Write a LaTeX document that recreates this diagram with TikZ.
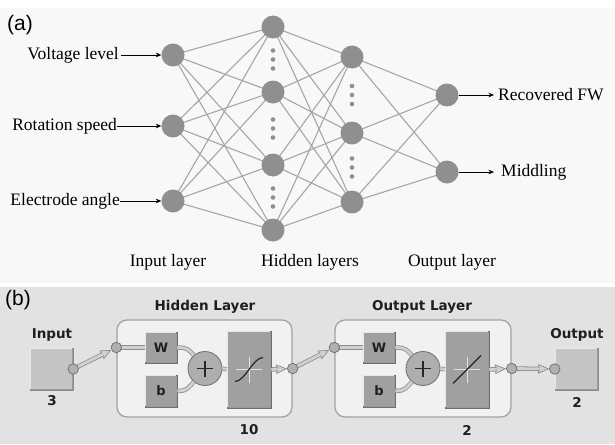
\documentclass[tikz,border=0pt]{standalone}
\usepackage{fontspec}
\setmainfont{Liberation Serif}
\newfontfamily\labfont{Liberation Sans}
\newfontfamily\vfont{DejaVu Sans}
\usetikzlibrary{arrows.meta,calc}
\definecolor{abg}{HTML}{F8F8F8}
\definecolor{bbg}{HTML}{E2E2E2}
\definecolor{ncol}{HTML}{8F8F8F}
\definecolor{lcol}{HTML}{A6A6A6}
\definecolor{cedge}{HTML}{8E8E8E}
\definecolor{cfill}{HTML}{D0D0D0}
\definecolor{lyfill}{HTML}{F1F1F1}
\definecolor{lyedge}{HTML}{A2A2A2}
\definecolor{boxfill}{HTML}{A0A0A0}
\definecolor{boxedge}{HTML}{6E6E6E}
\definecolor{ioboxfill}{HTML}{C4C4C4}
\definecolor{portfill}{HTML}{B0B0B0}
\definecolor{txtdark}{HTML}{1E1E1E}
\tikzset{
  neuron/.style={circle, fill=ncol, minimum size=23pt, inner sep=0pt},
  ndot/.style={circle, fill=ncol, minimum size=4.6pt, inner sep=0pt},
  wire/.style={draw=lcol, line width=1.1pt},
  inarrow/.style={draw=black, line width=0.7pt, -{Stealth[length=5.5pt,width=4.5pt]}},
  serif/.style={font=\fontsize{17.5}{20}\selectfont, inner sep=0pt},
  panel/.style={font=\labfont\fontsize{21}{24}\selectfont, inner sep=0pt},
  vtitle/.style={font=\vfont\bfseries\fontsize{13.5}{16}\selectfont, text=txtdark, inner sep=0pt},
  layerbox/.style={draw=lyedge, fill=lyfill, line width=1.3pt, rounded corners=10pt, inner sep=0pt},
  wbox/.style={draw=boxedge, fill=boxfill, line width=0.6pt, inner sep=0pt,
               font=\vfont\bfseries\fontsize{13}{15}\selectfont, text=txtdark},
  iobox/.style={draw=boxedge!80, fill=ioboxfill, line width=0.6pt, inner sep=0pt},
  sumnode/.style={circle, draw=boxedge, fill=boxfill!85, line width=0.8pt, minimum size=34pt, inner sep=0pt},
  conn/.style={draw=cedge, double=cfill, double distance=2.8pt, line width=0.8pt},
  tipline/.style={draw=cedge, line width=0.7pt, -{Triangle[length=11pt,width=9.5pt,fill=cfill]}},
  port/.style={circle, draw=boxedge, fill=portfill, line width=0.7pt, minimum size=10.5pt, inner sep=0pt},
  hilite/.style={draw=white!75!boxfill, line width=1pt},
  cross/.style={draw=white!70!boxfill, line width=0.6pt},
  glyph/.style={draw=black!85, line width=1.2pt}
}
\begin{document}
\begin{tikzpicture}[x=1pt,y=-1pt]
\useasboundingbox (0,0) rectangle (615,444);
\fill[white] (0,0) rectangle (615,444);
\fill[abg] (0,8) rectangle (615,283);
\fill[bbg] (0,287) rectangle (615,444);

% ---------------- (a) ----------------
\node[panel, anchor=west] (pa) at (7,25) {(a)};

\coordinate (i1) at (173,55);
\coordinate (i2) at (173,126);
\coordinate (i3) at (173,201);
\coordinate (h1) at (273,27);
\coordinate (h2) at (273,92);
\coordinate (h3) at (273,165);
\coordinate (h4) at (273,230);
\coordinate (g1) at (352,57);
\coordinate (g2) at (352,133);
\coordinate (g3) at (352,202);
\coordinate (o1) at (447,95);
\coordinate (o2) at (447,172);

\foreach \a in {i1,i2,i3}{\foreach \b in {h1,h2,h3,h4}{\draw[wire] (\a) -- (\b);}}
\foreach \a in {h1,h2,h3,h4}{\foreach \b in {g1,g2,g3}{\draw[wire] (\a) -- (\b);}}
\foreach \a in {g1,g2,g3}{\foreach \b in {o1,o2}{\draw[wire] (\a) -- (\b);}}

\foreach \n in {i1,i2,i3,h1,h2,h3,h4,g1,g2,g3,o1,o2}{
  \node[neuron] (n\n) at (\n) {};}

% dots
\foreach \p/\q/\k in {h1/h2/a,h2/h3/b,h3/h4/c,g1/g2/d,g2/g3/e}{
  \foreach \d/\j in {-9/1,0/2,9/3}{
    \node[ndot] (dot\k\j) at ($(\p)!0.5!(\q)+(0,\d)$) {};}}

% input labels
\node[serif, anchor=east] (lv) at (119,55) {Voltage level};
\node[serif, anchor=east] (lr) at (117,126) {Rotation speed};
\node[serif, anchor=east] (le) at (120,201) {Electrode angle};
\draw[inarrow] ([xshift=2pt]lv.east) -- (ni1.west);
\draw[inarrow] (lr.east) -- (ni2.west);
\draw[inarrow] (le.east) -- (ni3.west);

% output labels
\node[serif, anchor=west] (lo1) at (498,95) {Recovered FW};
\node[serif, anchor=west] (lo2) at (501,172) {Middling};
\draw[inarrow] (no1.east) -- ([xshift=-4pt]lo1.west);
\draw[inarrow] (no2.east) -- ([xshift=-7pt]lo2.west);

\node[serif] (li) at (168,262) {Input layer};
\node[serif] (lh) at (310,262) {Hidden layers};
\node[serif] (lol) at (452,262) {Output layer};

% ---------------- (b) ----------------
\node[panel, anchor=west] (pb) at (5,300) {(b)};

% layer boxes
\node[layerbox, minimum width=175pt, minimum height=97pt] (hid) at (204.5,368.5) {};
\node[layerbox, minimum width=176pt, minimum height=97pt] (olay) at (423,368.5) {};
\node[vtitle] (thid) at (205,307) {Hidden Layer};
\node[vtitle] (tout) at (422,307) {Output Layer};
\node[vtitle] (n10) at (249,430) {10};
\node[vtitle] (n2a) at (467,430) {2};

% input / output boxes
\node[iobox, minimum width=43pt, minimum height=42pt] (inbox) at (51.5,369) {};
\node[iobox, minimum width=43pt, minimum height=42pt] (outbox) at (576.5,369) {};
\node[vtitle] (tin) at (52,335) {Input};
\node[vtitle] (tou) at (577,335) {Output};
\node[vtitle] (n3) at (52,401) {3};
\node[vtitle] (n2b) at (577,402) {2};

% inner boxes
\node[wbox, minimum width=32pt, minimum height=31pt] (w1) at (161,347.5) {W};
\node[wbox, minimum width=32pt, minimum height=32pt] (b1) at (161,391) {b};
\node[sumnode] (p1) at (205,368.5) {};
\node[wbox, minimum width=44pt, minimum height=77pt] (s1) at (249,369.5) {};
\node[wbox, minimum width=32pt, minimum height=31pt] (w2) at (379,347.5) {W};
\node[wbox, minimum width=32pt, minimum height=32pt] (b2) at (379,391) {b};
\node[sumnode] (p2) at (423,368.5) {};
\node[wbox, minimum width=44pt, minimum height=77pt] (l2) at (467,369.5) {};

% bevel highlights
\foreach \bx in {w1,b1,s1,w2,b2,l2,inbox,outbox}{
  \draw[hilite] ([xshift=1.2pt,yshift=1.2pt]\bx.south west) -- ([xshift=1.2pt,yshift=-1.2pt]\bx.north west)
     -- ([xshift=-1.2pt,yshift=-1.2pt]\bx.north east);
  \draw[draw=boxedge!70, line width=1.2pt] ([xshift=-1pt,yshift=-1pt]\bx.north east) -- ([xshift=-1pt,yshift=1pt]\bx.south east)
     -- ([xshift=1pt,yshift=1pt]\bx.south west);}

% plus signs
\foreach \pp in {p1,p2}{
  \draw[glyph, line width=1.3pt] ($(\pp)+(-8,0)$) -- ($(\pp)+(8,0)$);
  \draw[glyph, line width=1.3pt] ($(\pp)+(0,-8)$) -- ($(\pp)+(0,8)$);}

% transfer-function glyphs
\foreach \fb in {s1,l2}{
  \draw[cross] ($(\fb)+(-13,0)$) -- ($(\fb)+(13,0)$);
  \draw[cross] ($(\fb)+(0,-13)$) -- ($(\fb)+(0,13)$);}
\draw[glyph] ($(s1)+(-14,12)$) .. controls ($(s1)+(-4,12)$) and ($(s1)+(4,-12)$) .. ($(s1)+(14,-12)$);
\draw[glyph] ($(l2)+(-14,14)$) -- ($(l2)+(14,-14)$);

% port coordinates
\coordinate (c0) at (inbox.east);
\coordinate (c1) at (hid.west |- w1);
\coordinate (c2) at (hid.east);
\coordinate (c3) at (olay.west |- w2);
\coordinate (c4) at (olay.east);
\coordinate (c5) at (outbox.west);

% connectors with open triangle tips
\draw[tipline, shorten >=5.5pt] (c0) -- (c1);
\draw[conn, shorten >=15pt, shorten <=4pt] (c0) -- (c1);
\draw[tipline, shorten >=5.5pt] (c2) -- (c3);
\draw[conn, shorten >=15pt, shorten <=4pt] (c2) -- (c3);
\draw[tipline, shorten >=5.5pt] (s1.east) -- (c2);
\draw[conn, shorten >=15pt] (s1.east) -- (c2);
\draw[tipline, shorten >=5.5pt] (l2.east) -- (c4);
\draw[conn, shorten >=15pt] (l2.east) -- (c4);
\draw[tipline, shorten >=5.5pt] (c4) -- (c5);
\draw[conn, shorten >=15pt, shorten <=4pt] (c4) -- (c5);

% plain connectors
\draw[conn] (c1) -- (w1.west);
\draw[conn] (c3) -- (w2.west);
\draw[conn] (w1.east) .. controls +(11,0) and +(-5,-5) .. (p1.130);
\draw[conn] (b1.east) .. controls +(11,0) and +(-5,5) .. (p1.230);
\draw[conn] (w2.east) .. controls +(11,0) and +(-5,-5) .. (p2.130);
\draw[conn] (b2.east) .. controls +(11,0) and +(-5,5) .. (p2.230);
\draw[conn] (p1.east) -- (s1.west);
\draw[conn] (p2.east) -- (l2.west);

% ports
\foreach \c in {c0,c1,c2,c3,c4,c5}{\node[port] (port\c) at (\c) {};}
\end{tikzpicture}
\end{document}
